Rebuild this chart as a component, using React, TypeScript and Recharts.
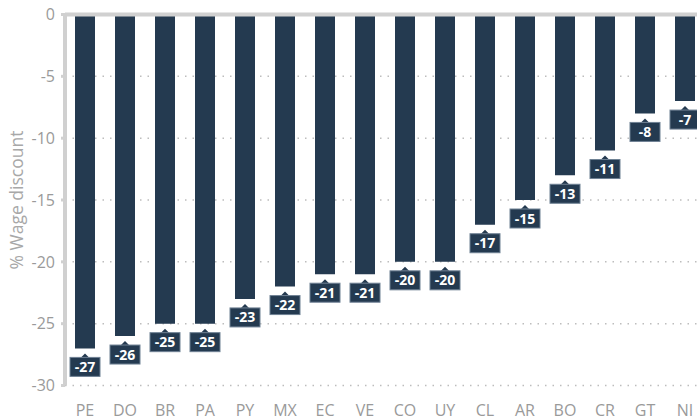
import React from "react";
import { BarChart, Bar, XAxis, YAxis, CartesianGrid, ReferenceLine, LabelList } from "recharts";

const countries = ["PE", "DO", "BR", "PA", "PY", "MX", "EC", "VE", "CO", "UY", "CL", "AR", "BO", "CR", "GT", "NI"];
const wageDiscount = [-27, -26, -25, -25, -23, -22, -21, -21, -20, -20, -17, -15, -13, -11, -8, -7];
const yTicks = [0, -5, -10, -15, -20, -25, -30];

const data = countries.map((c, i) => ({ country: c, value: wageDiscount[i] }));

const BAR = "#243a50";
const FONT = "'Open Sans', sans-serif";
const AXIS = "#d0d0d0";

const LabelBox = (props: any) => {
  const { x, y, width, height, value } = props;
  const cx = Number(x) + Number(width) / 2;
  const end = Math.max(Number(y), Number(y) + Number(height));
  const top = end + 9;
  return (
    <g>
      <path d={`M${cx - 5},${top + 1} L${cx},${end + 5} L${cx + 5},${top + 1} Z`} fill={BAR} />
      <rect x={cx - 15} y={top} width={30} height={19} fill={BAR} stroke="#6f8194" strokeWidth={1} />
      <text x={cx} y={top + 14.5} textAnchor="middle" fill="#ffffff" fontWeight={700} fontSize={14} fontFamily={FONT}>
        {value}
      </text>
    </g>
  );
};

const XTick = (props: any) => {
  const { x, y, payload } = props;
  return (
    <text x={x} y={Number(y) + 30} textAnchor="middle" fill="#9a9a9a" fontSize={16} fontFamily={FONT}>
      {payload.value}
    </text>
  );
};

export default function App() {
  return (
    <div style={{ position: "absolute", left: 0, top: 0, width: 697, height: 419, overflow: "hidden", background: "#fff" }}>
      <BarChart
        width={706}
        height={419}
        data={data}
        margin={{ top: 14.5, right: 1, bottom: 0, left: 0 }}
      >
        <CartesianGrid vertical={false} horizontalValues={[-5, -10, -15, -20, -25, -30]} stroke="#bdbdbd" strokeDasharray="1.5 6" strokeWidth={1.5} />
        <XAxis
          dataKey="country"
          axisLine={false}
          tickLine={false}
          tickSize={0}
          tickMargin={0}
          height={33.5}
          interval={0}
          tick={<XTick />}
        />
        <XAxis
          xAxisId="top"
          dataKey="country"
          orientation="top"
          height={0}
          tick={false}
          tickLine={false}
          axisLine={{ stroke: AXIS, strokeWidth: 4 }}
          stroke={AXIS}
        />
        <YAxis
          domain={[-30, 0]}
          ticks={yTicks}
          width={65}
          stroke={AXIS}
          axisLine={{ stroke: AXIS, strokeWidth: 4 }}
          tickLine={{ stroke: AXIS, strokeWidth: 3 }}
          tickSize={4}
          tickMargin={6}
          tick={{ fill: "#9a9a9a", fontSize: 16, fontFamily: FONT }}
          label={{
            value: "% Wage discount",
            angle: -90,
            position: "insideLeft",
            offset: 0,
            dx: 17,
            style: { textAnchor: "middle", fill: "#a8a8a8", fontSize: 17.5, fontFamily: FONT },
          }}
        />
        <Bar dataKey="value" fill={BAR} barSize={20} isAnimationActive={false}>
          <LabelList dataKey="value" content={<LabelBox />} />
        </Bar>
        <ReferenceLine y={0} stroke={AXIS} strokeWidth={4} ifOverflow="visible" />
      </BarChart>
    </div>
  );
}
